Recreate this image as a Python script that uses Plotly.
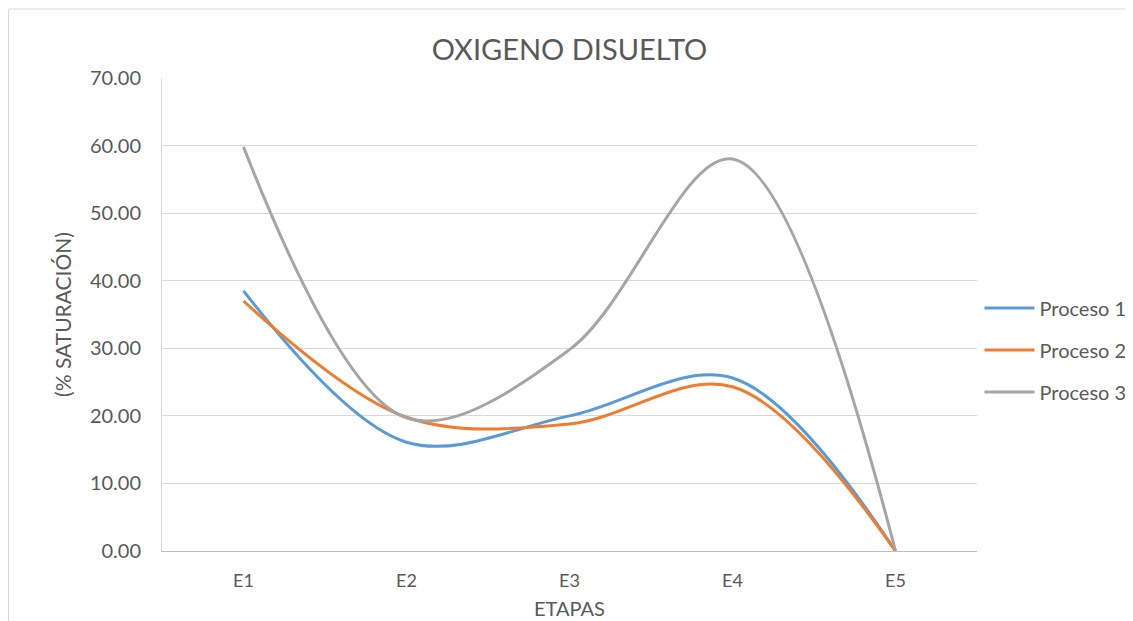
import plotly.graph_objects as go

etapas = ["E1", "E2", "E3", "E4", "E5"]
proceso_1 = [38.5, 16.1, 20.0, 25.6, 0.0]
proceso_2 = [37.0, 19.8, 18.8, 24.3, 0.0]
proceso_3 = [59.8, 19.7, 29.8, 58.0, 0.0]
series_names = ["Proceso 1", "Proceso 2", "Proceso 3"]
colors = ["#5B9BD5", "#ED7D31", "#A5A5A5"]
y_ticks = [0, 10, 20, 30, 40, 50, 60, 70]

FONT = "Lato"
TXT = "#595959"

fig = go.Figure()
for i, (name, vals) in enumerate(zip(series_names, [proceso_1, proceso_2, proceso_3])):
    fig.add_trace(go.Scatter(
        x=etapas, y=vals, name=name, mode="lines",
        line=dict(color=colors[i], width=3, shape="spline", smoothing=1.0),
        legendgroup=name,
    ))

W, H = 1125, 613  # page body has an 8px margin
fig.update_layout(
    width=W, height=H,
    margin=dict(l=154, r=156, t=70, b=70, autoexpand=False),
    paper_bgcolor="white", plot_bgcolor="white",
    font=dict(family=FONT, color=TXT, size=19),
    title=dict(text="OXIGENO DISUELTO", x=0.5, xanchor="center", xref="paper",
               y=1 - 42 / H, yref="container", yanchor="middle",
               font=dict(family=FONT, size=29, color=TXT)),
    showlegend=True,
    legend=dict(x=1.003, xanchor="left", y=0.425, yanchor="middle",
                font=dict(family=FONT, size=20, color=TXT),
                tracegroupgap=13, traceorder="grouped", itemwidth=50,
                bgcolor="rgba(0,0,0,0)"),
    xaxis=dict(type="category", range=[-0.5, 4.5], showgrid=False, showline=True,
               linecolor="#BFBFBF", linewidth=1, ticks="", ticklabelstandoff=13,
               tickfont=dict(family=FONT, size=18, color=TXT),
               title=dict(text="ETAPAS", font=dict(family=FONT, size=20, color=TXT), standoff=12),
               zeroline=False),
    yaxis=dict(range=[0, 70], tickvals=y_ticks, tickformat=".2f",
               showgrid=True, gridcolor="#D9D9D9", gridwidth=1,
               showline=True, linecolor="#D9D9D9", linewidth=1,
               ticks="", ticklabelstandoff=16, zeroline=False,
               tickfont=dict(family=FONT, size=20, color=TXT),
               title=dict(text="(% SATURACIÓN)", font=dict(family=FONT, size=21, color=TXT), standoff=12)),
    shapes=[
        dict(type="line", xref="paper", yref="paper", x0=-0.1883, x1=1.2, y0=1.1459, y1=1.1459,
             line=dict(color="#D9D9D9", width=1)),
        dict(type="line", xref="paper", yref="paper", x0=-0.1883, x1=-0.1883, y0=-0.2, y1=1.1459,
             line=dict(color="#D9D9D9", width=1)),
    ],
)
fig.write_html("out.html")
